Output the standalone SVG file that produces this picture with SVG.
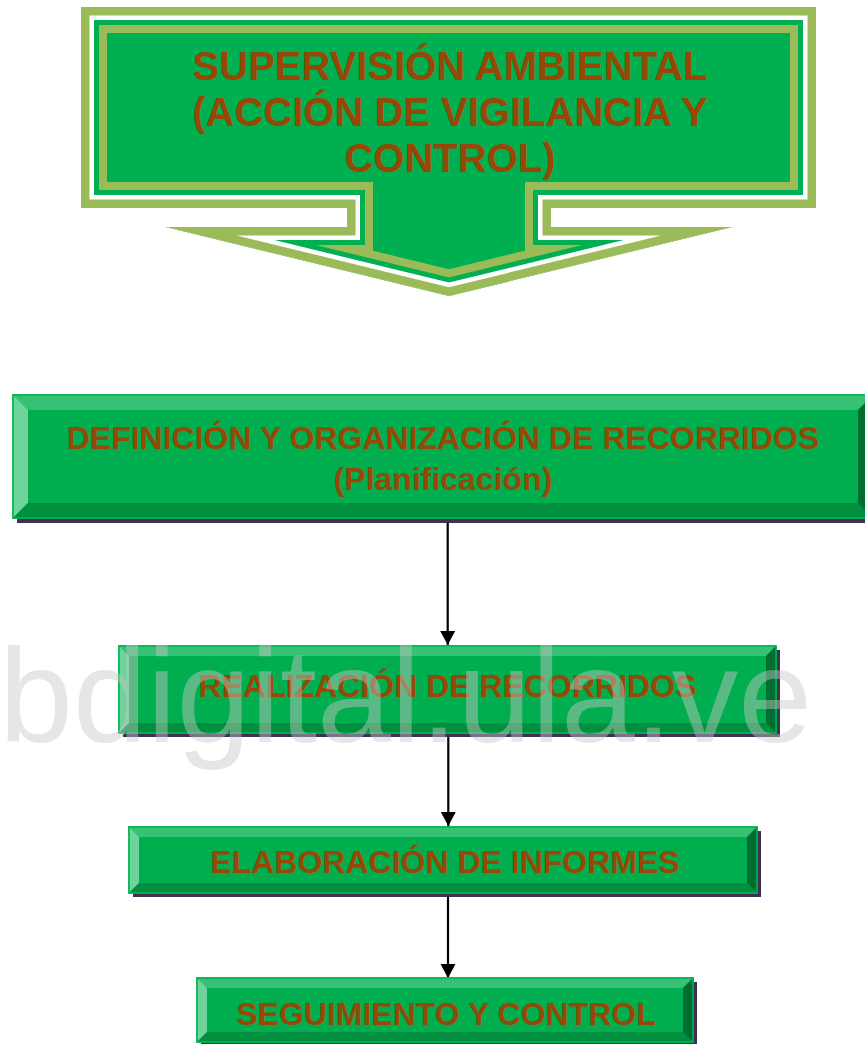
<svg xmlns="http://www.w3.org/2000/svg" xmlns:xlink="http://www.w3.org/1999/xlink" width="865" height="1044" viewBox="0 0 865 1044">
<style>
.t{font-family:"Liberation Sans",Arial,sans-serif;font-weight:bold;fill:#974806;text-anchor:middle}
.face{fill:#00AE4F;stroke:#00B450;stroke-width:1.5}
.bt{fill:#35C275}
.bl{fill:#6ED49B}
.bb{fill:#008F3F}
.br{fill:#006E30}
.sh{fill:#3F3151}
.conn{stroke:#000;stroke-width:2.2;fill:none;marker-end:url(#ah)}
</style>
<defs>
<path id="callout" d="M81,7 H816 V208 H551 V227 H732 L449,296 L166,227 H347 V208 H81 Z"/>
<clipPath id="cclip"><use xlink:href="#callout"/></clipPath>
<marker id="ah" markerWidth="14" markerHeight="15" viewBox="0 0 14 15" refX="14" refY="7.5" orient="auto" markerUnits="userSpaceOnUse" style="overflow:visible">
<path d="M0,0 L14,7.5 L0,15 Z" fill="#000"/>
</marker>
</defs>

<g id="header">
<g clip-path="url(#cclip)" stroke-linejoin="miter" stroke-miterlimit="20">
<use xlink:href="#callout" fill="#00AF50" stroke="#9BBB59" stroke-width="52"/>
<use xlink:href="#callout" fill="none" stroke="#00AF50" stroke-width="36"/>
<use xlink:href="#callout" fill="none" stroke="#FFFFFF" stroke-width="26"/>
<use xlink:href="#callout" fill="none" stroke="#9BBB59" stroke-width="17"/>
</g>
<text class="t" x="450" y="80" font-size="40">SUPERVISIÓN AMBIENTAL</text>
<text class="t" x="450" y="126" font-size="40">(ACCIÓN DE VIGILANCIA Y</text>
<text class="t" x="450" y="172" font-size="40">CONTROL)</text>
</g>

<g id="connectors">
<line class="conn" x1="447.7" y1="522" x2="447.7" y2="645"/>
<line class="conn" x1="448.3" y1="737" x2="448.3" y2="826"/>
<line class="conn" x1="448" y1="897" x2="448" y2="978"/>
</g>

<g id="box1">
<rect class="sh" x="17" y="399" width="860" height="124"/>
<rect class="face" x="13" y="395" width="860" height="123"/>
<polygon class="bt" points="13,395 873,395 858,410 28,410"/>
<polygon class="bl" points="13,395 28,410 28,503 13,518"/>
<polygon class="bb" points="13,518 28,503 858,503 873,518"/>
<polygon class="br" points="873,395 873,518 858,503 858,410"/>
<rect x="13" y="395" width="860" height="123" fill="none" stroke="#00B450" stroke-width="1.5"/>
<text class="t" x="443" y="449" font-size="32">DEFINICIÓN Y ORGANIZACIÓN DE RECORRIDOS</text>
<text class="t" x="443" y="490" font-size="32">(Planificación)</text>
</g>

<g id="box2">
<rect class="sh" x="123" y="650" width="657" height="87"/>
<rect class="face" x="119" y="646" width="657" height="87"/>
<polygon class="bt" points="119,646 776,646 766,656 129,656"/>
<polygon class="bl" points="119,646 129,656 129,723 119,733"/>
<polygon class="bb" points="119,733 129,723 766,723 776,733"/>
<polygon class="br" points="776,646 776,733 766,723 766,656"/>
<rect x="119" y="646" width="657" height="87" fill="none" stroke="#00B450" stroke-width="1.5"/>
<text class="t" x="447.5" y="697" font-size="32">REALIZACIÓN DE RECORRIDOS</text>
</g>

<g id="box3">
<rect class="sh" x="133" y="831" width="628" height="66"/>
<rect class="face" x="129" y="827" width="628" height="66"/>
<polygon class="bt" points="129,827 757,827 747,837 139,837"/>
<polygon class="bl" points="129,827 139,837 139,883 129,893"/>
<polygon class="bb" points="129,893 139,883 747,883 757,893"/>
<polygon class="br" points="757,827 757,893 747,883 747,837"/>
<rect x="129" y="827" width="628" height="66" fill="none" stroke="#00B450" stroke-width="1.5"/>
<text class="t" x="445" y="873" font-size="32">ELABORACIÓN DE INFORMES</text>
</g>

<g id="box4">
<rect class="sh" x="201" y="982" width="496" height="64"/>
<rect class="face" x="197" y="978" width="496" height="64"/>
<polygon class="bt" points="197,978 693,978 683,988 207,988"/>
<polygon class="bl" points="197,978 207,988 207,1032 197,1042"/>
<polygon class="bb" points="197,1042 207,1032 683,1032 693,1042"/>
<polygon class="br" points="693,978 693,1042 683,1032 683,988"/>
<rect x="197" y="978" width="496" height="64" fill="none" stroke="#00B450" stroke-width="1.5"/>
<text class="t" x="446" y="1025" font-size="32">SEGUIMIENTO Y CONTROL</text>
</g>

<text x="-1" y="742" font-family="Liberation Sans,Arial,sans-serif" font-size="133" fill="#C8C8C8" fill-opacity="0.45">bdigital.ula.ve</text>
</svg>
